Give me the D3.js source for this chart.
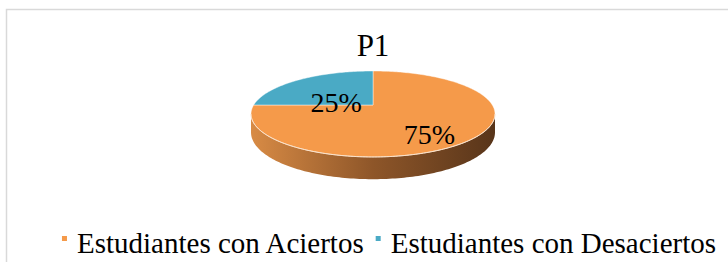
<!DOCTYPE html>
<html>
<head>
<meta charset="utf-8">
<script src="https://cdn.jsdelivr.net/npm/d3@7"></script>
<style>
  body { margin: 0; background: #fff; }
  text { font-family: "Liberation Serif", "Times New Roman", serif; fill: #000; }
</style>
</head>
<body>
<div id="chart"></div>
<script>
const categories = ['Estudiantes con Aciertos', 'Estudiantes con Desaciertos'];
const values = [75, 25];
const labels = ['75%', '25%'];
const title = 'P1';

const W = 728, H = 262;
const colors = d3.scaleOrdinal().domain(categories).range(['#f59a4a', '#4aaac5']);

const svg = d3.select('#chart').append('svg')
  .attr('width', W)
  .attr('height', H);

// chart frame (right and bottom edges fall outside the picture)
svg.append('rect')
  .attr('x', 6.5).attr('y', 9.5)
  .attr('width', 800).attr('height', 300)
  .attr('fill', 'none')
  .attr('stroke', '#d9d9d9')
  .attr('stroke-width', 1.5);

svg.append('text')
  .attr('x', 373).attr('y', 56)
  .attr('text-anchor', 'middle')
  .style('font-size', '31px')
  .text(title);

// perspective projection of the pie disc
const CX = 373, CY = 105, RX = 119.3, RY = 41.1, P = 0.209, DEPTH = 17.6;
function proj(a, k = 1, drop = 0) {
  const u = k * Math.sin(a), v = -k * Math.cos(a);
  const z = 1 - P * v;
  return [CX + RX * u / z, CY + (RY * v + drop) / z];
}
function arcPts(a0, a1, drop = 0) {
  const n = Math.max(2, Math.ceil(Math.abs(a1 - a0) / 0.02));
  return d3.range(n + 1).map(i => proj(a0 + (a1 - a0) * i / n, 1, drop));
}

const pie = d3.pie().sort(null).value(d => d.value);
const arcs = pie(categories.map((c, i) => ({ cat: c, value: values[i], label: labels[i] })));
const line = d3.line();

// side of the pie (front half), horizontal shading
const defs = svg.append('defs');
const grad = defs.append('linearGradient').attr('id', 'side')
  .attr('gradientUnits', 'userSpaceOnUse')
  .attr('x1', CX - 122).attr('x2', CX + 122).attr('y1', 0).attr('y2', 0);
grad.append('stop').attr('offset', 0).attr('stop-color', '#d88b45');
grad.append('stop').attr('offset', 0.5).attr('stop-color', '#8e5629');
grad.append('stop').attr('offset', 1).attr('stop-color', '#58351a');

const aR = Math.acos(-P), aL = 2 * Math.PI - aR;
const sidePts = arcPts(aR, aL).concat(arcPts(aL, aR, DEPTH));
svg.append('path')
  .attr('d', line(sidePts) + 'Z')
  .attr('fill', 'url(#side)');

// top face slices
svg.append('g').selectAll('path')
  .data(arcs)
  .join('path')
  .attr('d', d => line([[CX, CY]].concat(arcPts(d.startAngle, d.endAngle))) + 'Z')
  .attr('fill', d => colors(d.data.cat))
  .attr('stroke', 'rgba(255,255,255,0.55)')
  .attr('stroke-width', 0.8)
  .attr('stroke-linejoin', 'round');

// light rim along the front edge
svg.append('path')
  .attr('d', line(arcPts(aR, aL)))
  .attr('fill', 'none')
  .attr('stroke', '#fbe2ca')
  .attr('stroke-width', 1);

// data labels
const labelPos = d => {
  const [x, y] = proj((d.startAngle + d.endAngle) / 2, 0.55);
  return [x + 6, y + 12];
};
svg.append('g').selectAll('text')
  .data(arcs)
  .join('text')
  .attr('x', d => labelPos(d)[0])
  .attr('y', d => labelPos(d)[1])
  .attr('text-anchor', 'middle')
  .attr('dominant-baseline', 'central')
  .style('font-size', '28px')
  .text(d => d.data.label);

// legend
const legend = svg.append('g');
const items = legend.selectAll('g')
  .data(categories)
  .join('g');
items.append('rect')
  .attr('width', 5).attr('height', 5)
  .attr('y', 236)
  .attr('fill', d => colors(d));
items.append('text')
  .attr('y', 252.5)
  .style('font-size', '29px')
  .text(d => d);

let x = 0;
items.each(function () {
  const g = d3.select(this);
  const tw = g.select('text').node().getComputedTextLength();
  g.select('rect').attr('x', x);
  g.select('text').attr('x', x + 15);
  x += 15 + tw + 12;
});
const total = x - 12;
legend.attr('transform', `translate(${389 - total / 2},0)`);
</script>
</body>
</html>
